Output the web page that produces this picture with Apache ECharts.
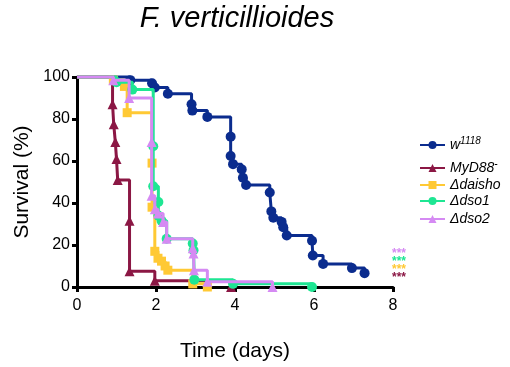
<!DOCTYPE html>
<html><head><meta charset="utf-8">
<script src="https://cdn.jsdelivr.net/npm/echarts@6/dist/echarts.min.js"></script>
<style>html,body{margin:0;padding:0;background:#fff}#c{width:510px;height:367px}</style>
</head><body><div id="c"></div>
<script>
// ---- data (Kaplan-Meier steps: time in days, survival %) ----
const seriesNames = ['w1118', 'MyD88-', 'Δdaisho', 'Δdso1', 'Δdso2'];

const w1118Time = [0, 1.35, 1.9, 1.97, 2.3, 2.9, 2.92, 3.3, 3.89, 3.89, 3.95, 4.17, 4.2, 4.28, 4.88, 4.92, 4.97, 5.18, 5.22, 5.31, 5.95, 5.97, 6.23, 6.96, 7.28];
const w1118Surv = [100, 98.5, 97, 95, 92, 87, 84, 81, 71.6, 62.4, 58.5, 56, 52, 48.6, 45, 36, 33, 31, 28.5, 24.5, 22, 15, 11, 9, 6.6];

const myd88Time = [0, 0.9, 0.93, 0.97, 1.0, 1.03, 1.33, 1.33, 1.97, 3.9];
const myd88Surv = [100, 87, 77.5, 69, 61, 51, 31.5, 7.5, 3, 0];

const daishoTime = [0, 0.92, 1.2, 1.27, 1.9, 1.9, 1.97, 2.05, 2.14, 2.23, 2.3, 2.93, 3.3];
const daishoSurv = [100, 98.5, 95.5, 83, 59, 38, 17, 13.7, 12.3, 10, 8, 1.5, 0];

const dso1Time = [0, 1.0, 1.4, 1.93, 1.93, 2.06, 2.06, 2.14, 2.27, 2.93, 2.95, 2.97, 3.95, 5.95];
const dso1Surv = [100, 97.5, 94, 67, 48, 40.5, 34, 31.5, 23, 20.7, 17.5, 3.5, 1.5, 0];

const dso2Time = [0, 0.92, 1.32, 1.89, 1.89, 1.97, 2.05, 2.18, 2.27, 2.93, 2.95, 2.96, 3.3, 4.95];
const dso2Surv = [100, 98.5, 90, 69, 43.4, 37, 35, 31, 23, 18.4, 16, 8, 2.5, 0];

const xTicks = [0, 2, 4, 6, 8];
const yTicks = [0, 20, 40, 60, 80, 100];
const sigMarks = ['***', '***', '***', '***']; // dso2, dso1, daisho, MyD88

// ---- styles ----
const FONT = '"Liberation Sans", Arial, sans-serif';
const colors = ['#0B2C8E', '#8B1744', '#FFC934', '#1EE693', '#D58AF3'];
const symbols = ['circle', 'triangle', 'rect', 'circle', 'triangle'];
const symSizes = [10, 10, 9, 10, 10];
const times = [w1118Time, myd88Time, daishoTime, dso1Time, dso2Time];
const survs = [w1118Surv, myd88Surv, daishoSurv, dso1Surv, dso2Surv];
const legendTops = [131, 154, 173, 189, 207];
const sigColors = ['#D58AF3', '#1EE693', '#FFC934', '#8B1744'];
const sigTops = [248, 256, 264, 272];

const chart = echarts.init(document.getElementById('c'), null, {renderer: 'canvas'});

const series = seriesNames.map((name, i) => ({
  name: name,
  type: 'line',
  step: 'end',
  clip: false,
  data: times[i].map((t, j) => [t, survs[i][j]]),
  symbol: symbols[i],
  symbolSize: (v, p) => (p.dataIndex === 0 ? 0 : symSizes[i]),
  showAllSymbol: true,
  color: colors[i],
  lineStyle: {width: 3, color: colors[i]},
  itemStyle: {color: colors[i]},
  emphasis: {disabled: true},
  animation: false,
  z: 2 + i
}));

const legendFmt = {
  'w1118': '{t|w}{s|1118}',
  'MyD88-': '{t|MyD88}{s|-}'
};

const legends = seriesNames.map((name, i) => ({
  data: [name],
  left: 414,
  top: legendTops[i],
  orient: 'vertical',
  itemWidth: 25,
  itemHeight: 10,
  formatter: n => legendFmt[n] || ('{t|' + n + '}'),
  textStyle: {
    rich: {
      t: {fontSize: 14, fontStyle: 'italic', fontFamily: FONT, color: '#000'},
      s: {fontSize: 10, fontStyle: 'italic', fontFamily: FONT, color: '#000', padding: [0, 0, 8, 0]}
    }
  },
  selectedMode: false
}));

chart.setOption({
  animation: false,
  backgroundColor: '#fff',
  title: {
    text: 'F. verticillioides',
    left: 232,
    textAlign: 'center',
    top: -1,
    textStyle: {fontFamily: FONT, fontSize: 29, fontStyle: 'italic', fontWeight: 'normal', color: '#000'}
  },
  grid: {left: 77, right: 117, top: 77, bottom: 78, containLabel: false},
  xAxis: {
    type: 'value', min: xTicks[0], max: xTicks[xTicks.length - 1], interval: 2,
    name: 'Time (days)', nameLocation: 'middle', nameGap: 54,
    nameTextStyle: {fontFamily: FONT, fontSize: 21, color: '#000'},
    axisLine: {show: true, lineStyle: {color: '#000', width: 3}},
    axisTick: {show: true, length: 5, lineStyle: {color: '#000', width: 3}},
    axisLabel: {fontFamily: FONT, fontSize: 16, color: '#000', margin: 11},
    splitLine: {show: false}
  },
  yAxis: {
    type: 'value', min: yTicks[0], max: yTicks[yTicks.length - 1], interval: 20,
    name: 'Survival (%)', nameLocation: 'middle', nameGap: 42, nameRotate: 90,
    nameTextStyle: {fontFamily: FONT, fontSize: 21, color: '#000'},
    axisLine: {show: true, lineStyle: {color: '#000', width: 3}},
    axisTick: {show: true, length: 5, lineStyle: {color: '#000', width: 3}},
    axisLabel: {fontFamily: FONT, fontSize: 16, color: '#000', margin: 7},
    splitLine: {show: false}
  },
  legend: legends,
  graphic: sigMarks.map((m, i) => ({
    type: 'text',
    left: 392,
    top: sigTops[i],
    style: {text: m, fill: sigColors[i], font: 'bold 12px ' + FONT}
  })),
  series: series
});
</script>
</body></html>
